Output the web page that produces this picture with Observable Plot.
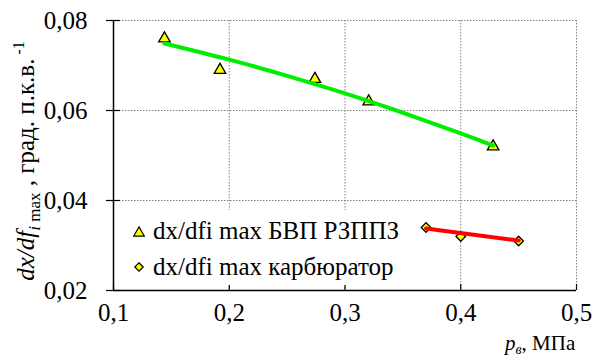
<!DOCTYPE html>
<html><head><meta charset="utf-8">
<script src="https://cdn.jsdelivr.net/npm/d3@7"></script>
<script src="https://cdn.jsdelivr.net/npm/@observablehq/plot@0.6"></script>
<style>
body{margin:0;background:#fff;}
#wrap{position:relative;width:592px;height:359px;font-family:'Liberation Serif','DejaVu Serif',serif;}
#wrap svg text{font-family:'Liberation Serif','DejaVu Serif',serif;}
#legend{position:absolute;left:115px;top:210px;width:300px;height:75px;background:#fff;font-size:25px;color:#000;}
#legend .row{position:absolute;left:0;white-space:nowrap;line-height:1;}
#legend svg{position:absolute;}
</style></head><body><div id="wrap"></div>
<script>
// Series: dx/dfi max БВП РЗППЗ (triangles)
const bvpX = [0.144, 0.192, 0.274, 0.3205, 0.428];
const bvpY = [0.076, 0.069, 0.067, 0.062, 0.052];
// Series: dx/dfi max карбюратор (diamonds)
const carbX = [0.37, 0.40, 0.45];
const carbY = [0.034, 0.032, 0.031];
// Trend lines
const trendBvpX = [0.144, 0.2, 0.25, 0.3, 0.35, 0.4, 0.428];
const trendBvpY = [0.0749, 0.0713, 0.0677, 0.0638, 0.0595, 0.0549, 0.0522];
const trendCarbX = [0.37, 0.45];
const trendCarbY = [0.0338, 0.0311];
// Axes
const xTicks = [0.1, 0.2, 0.3, 0.4, 0.5];
const yTicks = [0.02, 0.04, 0.06, 0.08];
const xGrid = [0.2, 0.3, 0.4, 0.5];
const yGrid = [0.04, 0.06, 0.08];
const legendLabels = ["dx/dfi max БВП РЗППЗ", "dx/dfi max карбюратор"];

const bvp = bvpX.map((x, i) => ({x, y: bvpY[i]}));
const carb = carbX.map((x, i) => ({x, y: carbY[i]}));
const tBvp = trendBvpX.map((x, i) => ({x, y: trendBvpY[i]}));
const tCarb = trendCarbX.map((x, i) => ({x, y: trendCarbY[i]}));
const fmt1 = d => d.toFixed(1).replace(".", ",");
const fmt2 = d => d.toFixed(2).replace(".", ",");
const serif = "'Liberation Serif', 'DejaVu Serif', serif";

const plot = Plot.plot({
  width: 592, height: 359,
  marginLeft: 113, marginRight: 16, marginTop: 20, marginBottom: 69,
  style: {fontFamily: serif, fontSize: "25px", color: "#000", background: "#fff", overflow: "visible"},
  x: {domain: [0.1, 0.5], axis: null},
  y: {domain: [0.02, 0.08], axis: null},
  marks: [
    Plot.gridX(xGrid, {stroke: "#808080", strokeOpacity: 1, strokeWidth: 1, strokeDasharray: "1.5,1.5"}),
    Plot.gridY(yGrid, {stroke: "#808080", strokeOpacity: 1, strokeWidth: 1, strokeDasharray: "1.5,1.5"}),
    Plot.axisX(xTicks, {tickSize: 6, dy: -6, tickFormat: () => "", label: null, stroke: "#000", strokeWidth: 1.2}),
    Plot.axisX(xTicks, {tickSize: 0, tickPadding: 13, tickFormat: fmt1, label: null, fontSize: 25, fill: "#000"}),
    Plot.axisY(yTicks, {tickSize: 14, dx: 7, tickFormat: () => "", label: null, stroke: "#000", strokeWidth: 1.2}),
    Plot.axisY(yTicks, {tickSize: 0, tickPadding: 26, tickFormat: fmt2, label: null, fontSize: 25, fill: "#000"}),
    Plot.ruleX([0.1], {stroke: "#000", strokeWidth: 1.5}),
    Plot.ruleY([0.02], {stroke: "#000", strokeWidth: 1.5}),
    Plot.dot(bvp, {x: "x", y: "y", symbol: "triangle", r: 4.3, fill: "#ffff00", stroke: "#000", strokeWidth: 1.3}),
    Plot.dot(carb, {x: "x", y: "y", symbol: "diamond2", r: 4.3, fill: "#ffff00", stroke: "#000", strokeWidth: 1.3}),
    Plot.line(tBvp, {x: "x", y: "y", stroke: "#00ee00", strokeWidth: 4, curve: "natural"}),
    Plot.line(tCarb, {x: "x", y: "y", stroke: "#ff0000", strokeWidth: 4})
  ]
});

const wrap = document.getElementById("wrap");
wrap.appendChild(plot);
const svg = d3.select(plot);

// Y axis label
const yl = svg.append("text")
  .attr("transform", "translate(34,161) rotate(-90)")
  .attr("text-anchor", "middle").attr("font-size", 25).attr("fill", "#000");
yl.append("tspan").attr("font-style", "italic").text("dx/df");
yl.append("tspan").attr("font-style", "italic").attr("font-size", 17).attr("dy", 6).text("i");
yl.append("tspan").attr("font-size", 17).text(" max");
yl.append("tspan").attr("dy", -6).text(" , град. п.к.в.");
yl.append("tspan").attr("font-size", 16).attr("dy", -10).text(" -1");

// X axis label
const xl = svg.append("text")
  .attr("x", 505).attr("y", 350).attr("text-anchor", "start").attr("font-size", 21).attr("fill", "#000");
xl.append("tspan").attr("font-style", "italic").text("p");
xl.append("tspan").attr("font-style", "italic").attr("font-size", 14).attr("dy", 4).text("в");
xl.append("tspan").attr("dy", -4).text(", МПа");

// Legend
const legend = document.createElement("div");
legend.id = "legend";
const syms = [d3.symbolTriangle, d3.symbolDiamond2];
legendLabels.forEach((lab, i) => {
  const top = i === 0 ? 8 : 44;
  const s = document.createElementNS("http://www.w3.org/2000/svg", "svg");
  s.setAttribute("width", 16); s.setAttribute("height", 16);
  s.style.left = "16px"; s.style.top = (i === 0 ? 15 : 49) + "px";
  const p = document.createElementNS("http://www.w3.org/2000/svg", "path");
  p.setAttribute("d", d3.symbol(syms[i], i === 0 ? 48 : 45)());
  p.setAttribute("transform", "translate(8,8)");
  p.setAttribute("fill", "#ffff00"); p.setAttribute("stroke", "#000"); p.setAttribute("stroke-width", 1.2);
  s.appendChild(p);
  legend.appendChild(s);
  const r = document.createElement("div");
  r.className = "row";
  r.style.left = "38px"; r.style.top = top + "px";
  r.textContent = lab;
  legend.appendChild(r);
});
wrap.appendChild(legend);
</script>
</body></html>
